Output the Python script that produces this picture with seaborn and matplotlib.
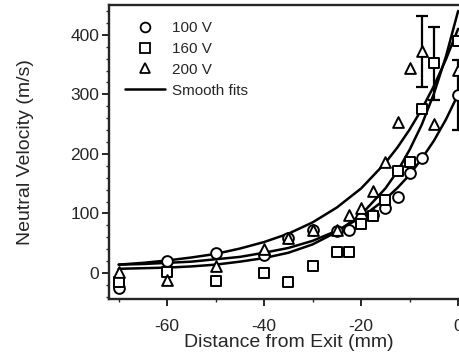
import numpy as np
import matplotlib
matplotlib.use("Agg")
import matplotlib.pyplot as plt
from matplotlib.lines import Line2D
from matplotlib.ticker import MultipleLocator
import seaborn as sns

x_100 = [-70, -60, -50, -40, -35, -30, -25, -22.5, -20, -17.5, -15, -12.5, -10, -7.5, 0]
v_100 = [-25, 20, 33, 30, 58, 73, 70, 72, 92, 97, 109, 128, 168, 193, 299]

x_160 = [-70, -60, -50, -40, -35, -30, -25, -22.5, -20, -17.5, -15, -12.5, -10, -7.5, -5, 0]
v_160 = [-15, 2, -13, 0, -15, 12, 36, 36, 83, 96, 122, 172, 187, 275, 352, 389]

x_200 = [-70, -60, -50, -40, -35, -30, -25, -22.5, -20, -17.5, -15, -12.5, -10, -7.5, -5, 0]
v_200 = [2, -12, 12, 41, 58, 72, 73, 97, 109, 137, 187, 254, 344, 372, 250, 341]

# error bars (only a few points carry them)
err_x = [0, -5, -7.5]
err_y = [299, 352, 372]
err_size = [59, 61, 60]

# smooth fit curves
fit_x = [-70, -65, -60, -55, -50, -45, -40, -35, -30, -25, -20, -15, -12.5, -10, -7.5, -5, -2.5, 0]
fit_100 = [14, 15, 17, 19, 23, 27, 34, 42, 54, 71, 93, 124, 143, 165, 192, 222, 258, 300]
fit_160 = [7, 8, 9, 11, 14, 19, 25, 34, 48, 69, 98, 142, 171, 207, 249, 301, 364, 440]
fit_200 = [14, 17, 21, 26, 32, 41, 52, 66, 85, 110, 142, 185, 211, 241, 275, 314, 359, 410]

sns.set_style("ticks")
plt.rcParams['font.family'] = ['Liberation Sans', 'DejaVu Sans']
plt.rcParams['axes.unicode_minus'] = False

fig = plt.figure(figsize=(4.6, 3.6), dpi=100)
ax = fig.add_axes([0.237, 0.169, 0.78, 0.817])

for fy in [fit_100, fit_160, fit_200]:
    sns.lineplot(x=fit_x, y=fy, color='k', lw=1.8, ax=ax, legend=False)

ax.errorbar(err_x, err_y, yerr=err_size, fmt='none', ecolor='k',
            elinewidth=1.6, capsize=4, capthick=1.6, zorder=2)

mk = dict(facecolor='white', edgecolor='k', linewidth=1.4, s=60, zorder=3, ax=ax, legend=False)
sns.scatterplot(x=x_100, y=v_100, marker='o', **mk)
sns.scatterplot(x=x_160, y=v_160, marker='s', **mk)
sns.scatterplot(x=x_200, y=v_200, marker='^', **mk)

ax.set_xlim(-72, 2)
ax.set_ylim(-44, 450)
ax.xaxis.set_major_locator(MultipleLocator(20))
ax.xaxis.set_minor_locator(MultipleLocator(10))
ax.yaxis.set_major_locator(MultipleLocator(100))
ax.yaxis.set_minor_locator(MultipleLocator(20))
ax.tick_params(which='major', direction='out', length=5, width=1.4, labelsize=12.5)
ax.tick_params(axis='x', which='major', pad=9)
ax.tick_params(axis='y', which='major', pad=2)
ax.tick_params(which='minor', direction='out', length=2.5, width=1)
for s in ax.spines.values():
    s.set_linewidth(1.7)

ax.set_xlabel('Distance from Exit (mm)', fontsize=14, labelpad=0)
ax.set_ylabel('Neutral Velocity (m/s)', fontsize=14, labelpad=26)

handles = [
    Line2D([], [], ls='none', marker='o', mfc='white', mec='k', mew=1.3, ms=7),
    Line2D([], [], ls='none', marker='s', mfc='white', mec='k', mew=1.3, ms=7),
    Line2D([], [], ls='none', marker='^', mfc='white', mec='k', mew=1.3, ms=7),
    Line2D([], [], color='k', lw=1.8),
]
ax.legend(handles, ['100 V', '160 V', '200 V', 'Smooth fits'], loc='upper left',
          bbox_to_anchor=(0.0, 1.0), frameon=False, fontsize=11,
          handlelength=2.6, handletextpad=0.5, labelspacing=0.45,
          borderaxespad=0.3, borderpad=0.75)

fig.savefig('out.png', dpi=100)
